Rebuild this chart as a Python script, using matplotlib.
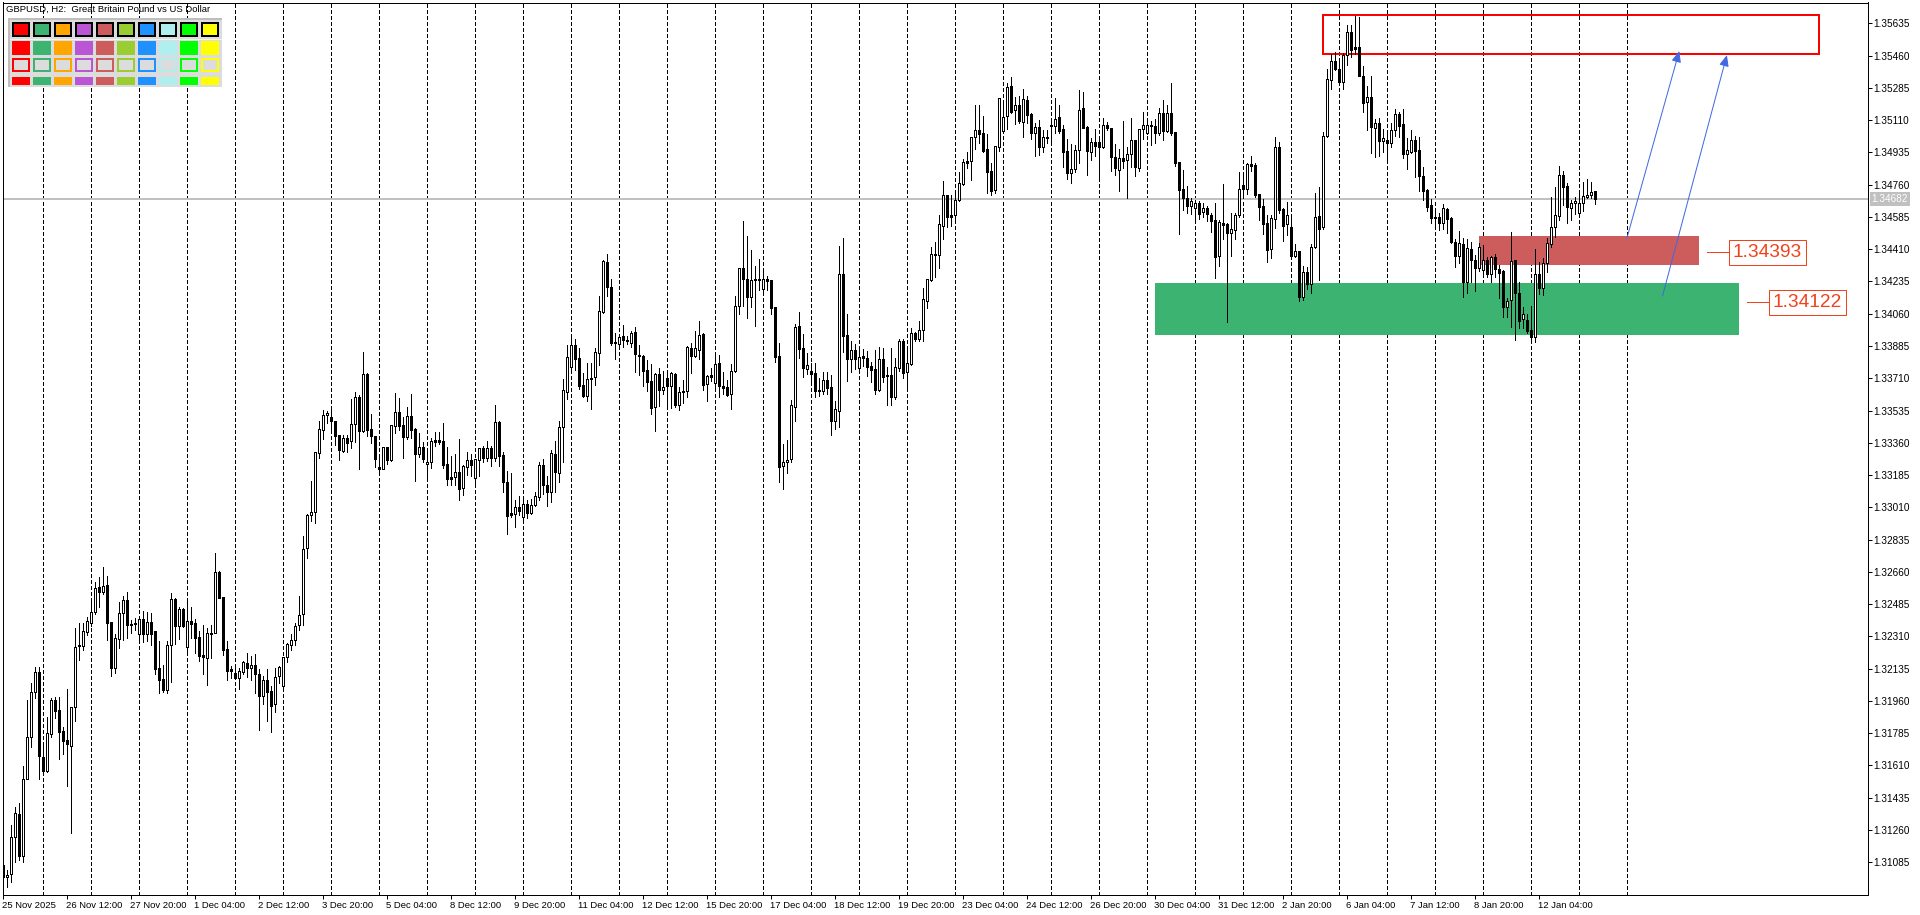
"""
GBPUSD H2 candlestick chart (MT5 style screenshot).
OHLC values are in points above 1.30000, read off the reference.
"""

import numpy as np
import matplotlib
matplotlib.use("Agg")
import matplotlib.pyplot as plt
from matplotlib.patches import Rectangle

# ============================
# Data
# ============================
BASE_PRICE = 1.30
POINT = 0.00001

opens = [
    1070,1003,1020,1224,1347,1121,1535,1763,2007,2115,
    1654,1582,1781,1965,1911,1795,1748,1717,1925,2262,
    2260,2336,2385,2444,2576,2553,2587,2386,2141,2298,
    2435,2506,2377,2381,2321,2403,2325,2386,2338,2137,
    2077,2021,2262,2511,2365,2457,2254,2392,2381,2305,
    2207,2195,2325,2330,2659,2522,2240,2132,2112,2086,
    2119,2168,2141,2153,2104,1985,2072,2012,1942,2094,
    2043,2197,2265,2289,2370,2433,2791,2967,2987,3307,
    3429,3509,3502,3477,3401,3314,3384,3368,3460,3607,
    3422,3733,3433,3395,3227,3220,3335,3269,3453,3525,
    3457,3393,3504,3433,3301,3335,3243,3258,3373,3373,
    3368,3243,3173,3176,3200,3117,3231,3265,3171,3269,
    3332,3279,3334,3279,3471,3292,3146,2977,2976,3014,
    2956,3026,2981,3024,3068,3238,3129,3095,3297,3198,
    3448,3634,3769,3889,3818,3672,3616,3704,3715,3849,
    4071,4339,4207,3905,3894,3939,3916,3903,3959,3834,
    3831,3753,3693,3552,3731,3648,3710,3670,3731,3567,
    3643,3639,3872,3833,3862,3950,3677,3726,3686,3791,
    3670,3661,3623,3751,4104,4306,4250,4149,4241,4250,
    4196,4250,4241,4094,3829,3236,3257,3270,3556,3991,
    3872,3762,3747,3736,3646,3642,3699,3661,3480,3530,
    4273,3943,3816,3861,3767,3830,3818,3774,3758,3646,
    3812,3726,3726,3606,3767,3910,3742,3789,3953,3924,
    3970,4131,4245,4384,4377,4537,4702,4593,4593,4678,
    4763,4886,4886,5017,5055,5038,4951,4832,4729,4966,
    5053,5130,5295,5163,5190,5102,5217,5141,5042,5071,
    4966,5017,5083,5080,5125,5060,4941,4825,4847,4946,
    5174,5071,4939,4993,4989,4966,5085,5065,4912,4841,
    4903,4892,4928,5000,4852,5060,5042,5083,5080,5042,
    5147,5053,5147,5044,4881,4734,4689,4645,4635,4658,
    4613,4636,4598,4568,4374,4553,4546,4499,4515,4597,
    4756,4734,4871,4866,4707,4644,4550,4409,4575,4962,
    4627,4548,4528,4374,4398,4148,4284,4222,4423,4588,
    4528,5022,5325,5428,5390,5318,5463,5586,5504,5504,
    5352,5206,5238,5069,5097,4998,5000,4987,5054,5141,
    5087,4928,4938,5000,4947,4806,4730,4647,4584,4584,
    4553,4626,4577,4450,4374,4436,4233,4410,4351,4309,
    4295,4354,4277,4365,4304,4291,4098,4132,4349,4175,
    4029,4025,3971,3935,4273,4201,4336,4438,4532,4591,
    4815,4752,4635,4658,4607,4658,4694,4705,4723,
]

highs = [
    1079,1043,1287,1383,1405,1607,1965,2056,2142,2142,
    1725,1871,1974,1980,1980,1821,2023,1925,2354,2381,
    2381,2417,2497,2607,2631,2687,2638,2390,2321,2497,
    2529,2549,2399,2408,2417,2446,2441,2435,2341,2285,
    2155,2287,2544,2517,2468,2466,2495,2468,2405,2339,
    2372,2354,2370,2763,2665,2526,2285,2151,2137,2137,
    2179,2218,2206,2215,2133,2095,2133,2043,2137,2150,
    2200,2273,2321,2381,2527,2855,2972,3153,3312,3478,
    3538,3533,3538,3478,3402,3402,3402,3596,3636,3618,
    3851,3737,3516,3397,3276,3335,3339,3457,3630,3601,
    3502,3556,3623,3438,3415,3364,3317,3384,3420,3420,
    3466,3337,3290,3299,3381,3240,3310,3297,3274,3334,
    3344,3368,3343,3563,3480,3308,3205,3194,3050,3071,
    3050,3050,3055,3095,3254,3272,3182,3321,3368,3478,
    3704,3889,3927,3921,3872,3737,3791,3791,3872,4154,
    4352,4382,4247,3954,3939,3997,3939,3968,3988,3889,
    3836,3809,3787,3739,3768,3748,3737,3744,3740,3661,
    3699,3885,3900,3966,4019,3954,3728,3764,3831,3836,
    3742,3700,3787,4156,4310,4563,4480,4405,4320,4355,
    4284,4264,4243,4098,3899,3353,3375,3592,4002,4067,
    3948,3845,3791,3793,3713,3742,3746,3727,3586,4427,
    4470,4057,3912,3894,3867,3867,3858,3800,3863,3878,
    3872,3773,3872,3818,3921,3921,3863,3981,3959,4020,
    4197,4246,4423,4447,4595,4780,4704,4704,4707,4830,
    4897,4935,5020,5192,5192,5132,5033,4876,4971,5232,
    5210,5313,5342,5237,5243,5279,5241,5150,5092,5109,
    5056,5056,5105,5230,5192,5082,5007,4980,4975,5273,
    5261,5078,5011,5060,5017,5120,5101,5067,4980,4953,
    5105,4966,5120,5002,5062,5152,5101,5105,5114,5174,
    5219,5192,5309,5047,4885,4839,4752,4685,4676,4671,
    4658,4644,4604,4658,4568,4763,4553,4608,4608,4828,
    4812,4875,4915,4875,4712,4683,4595,4595,5018,4989,
    4636,4664,4582,4436,4401,4318,4315,4436,4716,4747,
    5043,5390,5466,5477,5445,5472,5624,5625,5674,5667,
    5403,5295,5347,5116,5119,5061,5050,5097,5170,5155,
    5170,5011,5054,5025,5020,4857,4739,4682,4622,4604,
    4653,4636,4586,4463,4508,4472,4466,4450,4378,4441,
    4432,4369,4372,4383,4324,4297,4143,4501,4351,4233,
    4098,4061,4103,4409,4338,4360,4468,4694,4749,4861,
    4834,4767,4676,4694,4707,4774,4790,4774,4725,
]

lows = [
    998,953,980,1088,1097,1088,1535,1712,1974,1539,
    1571,1576,1766,1869,1647,1672,1501,1242,1853,2182,
    2236,2318,2367,2432,2471,2540,2291,2097,2113,2245,
    2291,2303,2330,2345,2291,2280,2283,2265,2106,2005,
    2010,2001,2065,2269,2298,2361,2227,2303,2222,2179,
    2108,2048,2191,2330,2517,2211,2074,2085,2079,2025,
    2106,2092,2074,2005,1802,1943,1853,1792,1902,2056,
    2025,2171,2236,2263,2345,2372,2737,2938,2923,3279,
    3381,3466,3426,3348,3267,3312,3312,3334,3366,3220,
    3420,3399,3361,3227,3198,3216,3245,3263,3415,3429,
    3279,3382,3388,3153,3283,3258,3165,3222,3343,3355,
    3222,3133,3131,3131,3052,3079,3185,3180,3135,3180,
    3258,3263,3236,3263,3236,3093,2867,2959,2905,2968,
    2938,2954,2974,3019,3050,3081,3019,3039,3095,3147,
    3258,3598,3750,3755,3654,3610,3589,3543,3674,3782,
    4066,4156,3890,3816,3869,3881,3898,3878,3744,3728,
    3670,3643,3516,3426,3560,3625,3556,3551,3556,3540,
    3574,3610,3740,3827,3816,3646,3587,3695,3664,3610,
    3624,3614,3543,3746,4058,4102,4038,4098,3993,4188,
    4176,4188,4058,3800,3149,3111,3198,3257,3478,3821,
    3718,3733,3695,3610,3615,3624,3623,3404,3433,3447,
    3854,3695,3746,3758,3746,3778,3722,3691,3624,3641,
    3691,3567,3567,3597,3751,3713,3655,3782,3914,3914,
    3912,4093,4239,4261,4310,4467,4532,4537,4554,4673,
    4758,4852,4785,4953,4984,4939,4716,4706,4713,4944,
    5049,5062,5150,5089,5092,5020,5096,5007,4917,4923,
    4939,4984,4989,5042,5042,4857,4791,4771,4830,4876,
    5065,4812,4894,4915,4792,4959,5056,4834,4812,4727,
    4848,4686,4854,4809,4836,5007,5035,4977,4988,5029,
    5002,5047,5029,4861,4494,4622,4604,4600,4573,4573,
    4586,4562,4503,4253,4320,4465,4016,4374,4465,4586,
    4685,4709,4833,4694,4568,4495,4342,4363,4526,4604,
    4456,4485,4369,4369,4130,4137,4192,4174,4419,4242,
    4521,5020,5280,5381,5313,5280,5408,5450,5468,5349,
    5155,5059,4933,4911,4917,4935,4890,4962,5025,5020,
    4906,4846,4933,4803,4723,4676,4615,4550,4532,4513,
    4519,4499,4445,4315,4333,4152,4170,4230,4183,4293,
    4269,4260,4233,4260,4143,4043,4043,3989,3919,3980,
    3984,3953,3913,3904,4166,4161,4288,4423,4474,4568,
    4649,4550,4568,4600,4586,4618,4685,4685,4654,
]

closes = [
    1007,1018,1220,1350,1119,1535,1763,2007,2115,1663,
    1582,1784,1965,1907,1793,1745,1727,1925,2254,2260,
    2341,2395,2444,2571,2553,2585,2385,2141,2300,2435,
    2506,2374,2370,2376,2403,2325,2386,2325,2133,2075,
    2019,2262,2511,2367,2459,2367,2392,2377,2303,2206,
    2200,2327,2330,2658,2520,2238,2124,2124,2086,2121,
    2169,2141,2153,2108,1989,2072,2010,1934,2092,2142,
    2197,2267,2289,2365,2428,2786,2967,2987,3308,3433,
    3509,3520,3477,3399,3319,3384,3361,3460,3607,3422,
    3731,3429,3399,3274,3220,3335,3267,3455,3525,3453,
    3393,3504,3428,3301,3335,3274,3254,3370,3366,3366,
    3241,3165,3165,3200,3111,3234,3265,3241,3270,3330,
    3278,3330,3279,3471,3290,3147,2965,2968,3014,2990,
    3026,2981,3021,3070,3238,3131,3095,3303,3203,3448,
    3645,3824,3889,3816,3670,3614,3704,3713,3851,4073,
    4344,4207,3903,3903,3932,3919,3910,3954,3844,3829,
    3751,3692,3551,3733,3648,3661,3670,3737,3567,3634,
    3636,3880,3833,3872,3943,3675,3724,3719,3786,3670,
    3655,3619,3751,4104,4306,4250,4152,4241,4250,4245,
    4250,4239,4093,3827,3230,3257,3268,3563,3986,3870,
    3767,3780,3735,3642,3642,3699,3659,3480,3541,4273,
    3941,3812,3861,3814,3827,3821,3773,3755,3648,3812,
    3718,3720,3610,3769,3910,3740,3791,3953,3924,3970,
    4138,4246,4382,4378,4545,4702,4586,4586,4675,4767,
    4881,4879,5017,5055,5036,4942,4830,4727,4968,5228,
    5125,5291,5154,5190,5107,5223,5138,5042,5071,4966,
    5017,5015,5080,5118,5053,4939,4825,4847,4946,5163,
    5069,4944,4989,4971,4966,5085,5065,4912,4852,4906,
    4890,4928,5000,4854,5060,5082,5085,5080,5042,5147,
    5053,5147,5042,4879,4733,4689,4645,4669,4658,4602,
    4636,4602,4564,4369,4555,4542,4499,4517,4598,4739,
    4734,4871,4862,4703,4640,4548,4405,4577,4962,4622,
    4537,4593,4372,4398,4152,4284,4222,4423,4586,4521,
    5023,5331,5428,5390,5318,5463,5586,5492,5497,5351,
    5204,5238,5074,5092,4998,5011,4987,5054,5141,5079,
    4928,4946,5000,4944,4806,4727,4640,4579,4580,4553,
    4636,4575,4450,4374,4441,4233,4414,4351,4309,4423,
    4354,4275,4365,4304,4282,4098,4130,4347,4174,4022,
    4061,3969,3935,4273,4201,4336,4441,4532,4593,4815,
    4749,4640,4658,4669,4658,4700,4702,4718,4681,
]

date_labels = [
    "25 Nov 2025", "26 Nov 12:00", "27 Nov 20:00", "1 Dec 04:00", "2 Dec 12:00",
    "3 Dec 20:00", "5 Dec 04:00", "8 Dec 12:00", "9 Dec 20:00", "11 Dec 04:00",
    "12 Dec 12:00", "15 Dec 20:00", "17 Dec 04:00", "18 Dec 12:00", "19 Dec 20:00",
    "23 Dec 04:00", "24 Dec 12:00", "26 Dec 20:00", "30 Dec 04:00", "31 Dec 12:00",
    "2 Jan 20:00", "6 Jan 04:00", "7 Jan 12:00", "8 Jan 20:00", "12 Jan 04:00",
]
price_ticks = [
    1.35635, 1.35460, 1.35285, 1.35110, 1.34935, 1.34760, 1.34585, 1.34410, 1.34235,
    1.34060, 1.33885, 1.33710, 1.33535, 1.33360, 1.33185, 1.33010, 1.32835, 1.32660,
    1.32485, 1.32310, 1.32135, 1.31960, 1.31785, 1.31610, 1.31435, 1.31260, 1.31085,
]

last_price = 1.34682
target_zone = (330, 454, 1.35470, 1.35680)    # bar from, bar to, price low, price high
supply_zone = (369, 424, 1.34324, 1.34481)
demand_zone = (288, 434, 1.33946, 1.34226)
arrows = [(406.1, 1.34470, 419.2, 1.35485), (415.0, 1.34156, 431.1, 1.35463)]
levels = [(1.34393, 426, 432, 441.2), (1.34122, 436, 442, 451.2)]

swatch_colors = ["#FF0000", "#3CB371", "#FFA500", "#BA55D3", "#CD5C5C",
                 "#9ACD32", "#1E90FF", "#AFEEEE", "#00FF00", "#FFFF00"]

# ============================
# Figure
# ============================
plt.rcParams["font.family"] = ["Liberation Sans", "DejaVu Sans"]
W, H = 1920, 915
PX = 72 / 100  # one pixel in points

fig = plt.figure(figsize=(W / 100, H / 100), dpi=100, facecolor="white")
ax = fig.add_axes([2.5 / W, (H - 894.5) / H, 1865 / W, 892 / H])

idx = np.arange(len(opens))
o = BASE_PRICE + np.array(opens) * POINT
h = BASE_PRICE + np.array(highs) * POINT
l = BASE_PRICE + np.array(lows) * POINT
c = BASE_PRICE + np.array(closes) * POINT

ax.set_xlim(0, 1865 / 4)
ax.set_ylim(1.30910, 1.35748)

# grid every 12 bars (one day), dashed
for gx in range(10, 407, 12):
    ax.axvline(gx, color="black", lw=PX, ls=(0, (3, 2.2)), zorder=1, antialiased=False)

# zones
for zone, col in [(supply_zone, "#CD5C5C"), (demand_zone, "#3CB371")]:
    ax.add_patch(Rectangle((zone[0], zone[2]), zone[1] - zone[0], zone[3] - zone[2],
                           fc=col, ec="none", zorder=2))
ax.axhline(last_price, color="#C0C0C0", lw=2 * PX, zorder=2.2)
ax.add_patch(Rectangle((target_zone[0], target_zone[2]), target_zone[1] - target_zone[0],
                       target_zone[3] - target_zone[2], fc="none", ec="#FF0000",
                       lw=2 * PX, zorder=2.5))

# candles
ax.vlines(idx, l, h, color="black", lw=PX, zorder=3, antialiased=False)
up = c >= o
ax.bar(idx[up], (c - o)[up], bottom=o[up], width=0.5, fc="white", ec="black",
       lw=PX, zorder=3.2, antialiased=False)
ax.bar(idx[~up], (o - c)[~up], bottom=c[~up], width=0.5, fc="black", ec="black",
       lw=PX, zorder=3.2, antialiased=False)

# arrows
for x0, y0, x1, y1 in arrows:
    ax.annotate("", xy=(x1, y1), xytext=(x0, y0), zorder=4,
                arrowprops=dict(arrowstyle="-|>,head_length=0.75,head_width=0.32",
                                color="#4169E1", lw=PX, shrinkA=0, shrinkB=0,
                                mutation_scale=9))

# price callouts
for price, x0, x1, xc in levels:
    ax.plot([x0, x1], [price, price], color="#F0421C", lw=PX, zorder=4)
    ax.text(xc, price, f"{price:.5f}", color="#F0421C", fontsize=13.8, ha="center",
            va="center", zorder=5,
            bbox=dict(boxstyle="square,pad=0.2", fc="white", ec="#F0421C", lw=PX))

# axes, ticks
ax.yaxis.tick_right()
ax.set_yticks(price_ticks)
ax.set_yticklabels([f"{p:.5f}" for p in price_ticks], fontsize=7.2, color="black")
ax.set_xticks(range(0, 16 * len(date_labels), 16))
ax.set_xticklabels(date_labels, fontsize=6.8, ha="left", color="black")
ax.tick_params(axis="y", length=3.5 * PX, width=PX, pad=1.5)
ax.tick_params(axis="x", length=4 * PX, width=PX, pad=1.5)
for s in ax.spines.values():
    s.set_linewidth(PX)

# current price tag
ax.annotate(f"{last_price:.5f}", xy=(1, last_price), xycoords=ax.get_yaxis_transform(),
            xytext=(3, 0), textcoords="offset points", fontsize=7.2, color="white",
            va="center", ha="left", annotation_clip=False, zorder=6,
            bbox=dict(boxstyle="square,pad=0.2", fc="#C0C0C0", ec="#C0C0C0", lw=0))

# ============================
# Colour panel overlay, in pixels
# ============================
ui = fig.add_axes([0, 0, 1, 1], zorder=10)
ui.set_xlim(0, W)
ui.set_ylim(H, 0)
ui.axis("off")

ui.text(6.5, 9.5, "GBPUSD, H2:  Great Britain Pound vs US Dollar", fontsize=6.8,
        va="center", ha="left", color="black")
ui.add_patch(Rectangle((8, 18), 214, 69, fc="#DCDCDC", ec="none"))
ui.add_patch(Rectangle((8, 18), 214, 2, fc="#BEBEBE", ec="none"))
ui.add_patch(Rectangle((8, 18), 2, 69, fc="#BEBEBE", ec="none"))
ui.add_patch(Rectangle((10, 38.5), 212, 1, fc="#F2F2F2", ec="none"))
for k, col in enumerate(swatch_colors):
    sx = 12 + 21 * k
    ui.add_patch(Rectangle((sx + 1, 23), 16, 12.5, fc=col, ec="black", lw=2 * PX))
    ui.add_patch(Rectangle((sx, 41), 18, 14, fc=col, ec="none"))
    ui.add_patch(Rectangle((sx + 1, 58.5), 16, 12, fc="#DCDCDC", ec=col, lw=2 * PX))
    ui.add_patch(Rectangle((sx, 77), 18, 8, fc=col, ec="none"))

plt.savefig("out.png", dpi=100)
